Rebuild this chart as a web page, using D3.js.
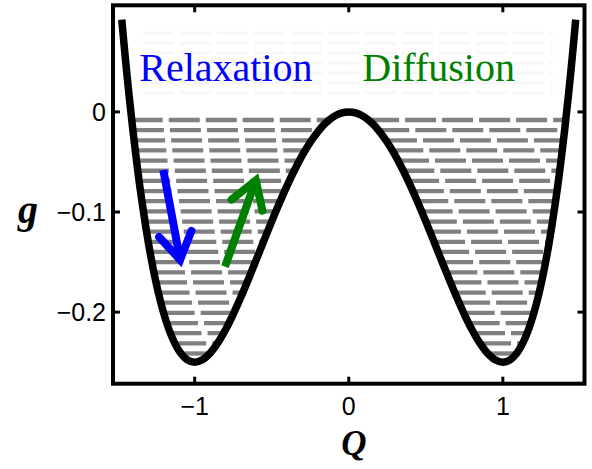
<!DOCTYPE html>
<html><head><meta charset="utf-8">
<script src="https://cdn.jsdelivr.net/npm/d3@7"></script>
<style>html,body{margin:0;padding:0;background:#fff;} svg{display:block;}</style>
</head><body>
<svg id="chart" width="592" height="469"></svg>
<script>
// ---- data ----
const qValues = [-1.473,-1.45,-1.425,-1.4,-1.375,-1.35,-1.3,-1.25,-1.2,-1.15,-1.1,-1.05,-1.0,-0.95,-0.9,-0.85,-0.8,-0.75,-0.7,-0.65,-0.6,-0.55,-0.5,-0.45,-0.4,-0.35,-0.3,-0.25,-0.2,-0.15,-0.1,-0.05,
  0,0.05,0.1,0.15,0.2,0.25,0.3,0.35,0.4,0.45,0.5,0.55,0.6,0.65,0.7,0.75,0.8,0.85,0.9,0.95,1.0,1.05,1.1,1.15,1.2,1.25,1.3,1.35,1.375,1.4,1.425,1.45,1.473];
const gValues = [0.0921,0.05388,0.01555,-0.0196,-0.0517,-0.08087,-0.13098,-0.1709,-0.2016,-0.224,-0.23898,-0.24737,-0.25,-0.24762,-0.24098,-0.23075,-0.2176,-0.20215,-0.18498,-0.16662,-0.1476,-0.12837,-0.10938,-0.091,-0.0736,-0.0575,-0.04298,-0.03027,-0.0196,-0.01112,-0.00498,-0.00125,
  0,-0.00125,-0.00498,-0.01112,-0.0196,-0.03027,-0.04298,-0.0575,-0.0736,-0.091,-0.10938,-0.12837,-0.1476,-0.16662,-0.18498,-0.20215,-0.2176,-0.23075,-0.24098,-0.24762,-0.25,-0.24737,-0.23898,-0.224,-0.2016,-0.1709,-0.13098,-0.08087,-0.0517,-0.0196,0.01555,0.05388,0.0921];
const hatchLevels = [-0.0081,-0.0182,-0.0284,-0.0385,-0.0487,-0.0588,-0.0689,-0.0791,-0.0892,-0.0994,-0.1095,-0.1196,
  -0.1298,-0.1399,-0.1501,-0.1602,-0.1703,-0.1805,-0.1906,-0.2008,-0.2109,-0.2210,-0.2312,-0.2413];
const faintLevels = [0.0789,0.0689,0.0589,0.0489,0.0389,0.0289,0.0189];
const xTicks = [-1, 0, 1];
const xTickLabels = ["\u22121", "0", "1"];
const yTicks = [0, -0.1, -0.2];
const yTickLabels = ["0", "\u22120.1", "\u22120.2"];
const relaxArrow = [[-1.2034, -0.0580], [-1.0944, -0.1477]];
const diffuseArrow = [[-0.8031, -0.1546], [-0.6032, -0.0684]];
const annotations = ["Relaxation", "Diffusion"];
const axisTitles = ["Q", "g"];

// ---- layout ----
const svg = d3.select("#chart");
const x = d3.scaleLinear().domain([-1.53, 1.53]).range([113, 584.5]);
const y = d3.scaleLinear().domain([0.1065, -0.2715]).range([5.3, 383.7]);
svg.append("rect").attr("width",592).attr("height",469).attr("fill","#fff");

function crossings(level){
  const xs=[];
  for(let i=0;i<qValues.length-1;i++){
    const a=gValues[i]-level, b=gValues[i+1]-level;
    if((a>=0 && b<0)||(a<0 && b>=0)){
      const t=a/(a-b);
      xs.push(qValues[i]+t*(qValues[i+1]-qValues[i]));
    }
  }
  return xs;
}

// very faint rows behind the labels
const faint = svg.append("g");
faintLevels.forEach(lv=>{
  faint.append("path").attr("d",`M${x(-1.335)},${y(lv)}H${x(1.325)}`)
    .attr("stroke","#f7f7f7").attr("stroke-width",3).attr("stroke-dasharray","31 6").attr("fill","none");
});

// hatch rows
const hatch = svg.append("g");
hatchLevels.forEach(lv=>{
  const xs=crossings(lv);
  for(let k=0;k+1<xs.length;k+=2){
    hatch.append("path").attr("d",`M${x(xs[k])},${y(lv)}H${x(xs[k+1])}`)
      .attr("stroke","#808080").attr("stroke-width",4.3).attr("stroke-dasharray","31 6").attr("fill","none");
  }
});

// curve
const line = d3.line().x((d,i)=>x(qValues[i])).y((d,i)=>y(gValues[i])).curve(d3.curveCatmullRom.alpha(0.5));
svg.append("path").attr("d",line(qValues)).attr("fill","none").attr("stroke","#000")
  .attr("stroke-width",7.5).attr("stroke-linejoin","round").attr("stroke-linecap","butt");

// arrows
function drawArrow(a,color){
  const x0=x(a[0][0]), y0=y(a[0][1]), x1=x(a[1][0]), y1=y(a[1][1]);
  const ang=Math.atan2(y0-y1,x0-x1), L=31, da=32*Math.PI/180;
  const p1=[x1+L*Math.cos(ang+da), y1+L*Math.sin(ang+da)];
  const p2=[x1+L*Math.cos(ang-da), y1+L*Math.sin(ang-da)];
  svg.append("path").attr("d",`M${x0},${y0}L${x1},${y1}`).attr("stroke",color).attr("stroke-width",8).attr("fill","none");
  svg.append("path").attr("d",`M${p1[0]},${p1[1]}L${x1},${y1}L${p2[0]},${p2[1]}`).attr("stroke",color)
    .attr("stroke-width",8).attr("fill","none").attr("stroke-linejoin","miter").attr("stroke-linecap","round");
}
drawArrow(relaxArrow,"#0000ff");
drawArrow(diffuseArrow,"#008000");

// frame
const [X0,X1]=x.range(), [Y0,Y1]=y.range();
svg.append("rect").attr("x",X0).attr("y",Y0).attr("width",X1-X0).attr("height",Y1-Y0)
  .attr("fill","none").attr("stroke","#000").attr("stroke-width",4);
const tk=svg.append("g").attr("stroke","#000").attr("stroke-width",3);
xTicks.forEach(t=>{
  tk.append("line").attr("x1",x(t)).attr("x2",x(t)).attr("y1",Y1).attr("y2",Y1-7);
  tk.append("line").attr("x1",x(t)).attr("x2",x(t)).attr("y1",Y0).attr("y2",Y0+7);
});
yTicks.forEach(t=>{
  tk.append("line").attr("y1",y(t)).attr("y2",y(t)).attr("x1",X0).attr("x2",X0+7);
  tk.append("line").attr("y1",y(t)).attr("y2",y(t)).attr("x1",X1).attr("x2",X1-7);
});

// tick labels
const tickFont = "Liberation Sans, Arial, sans-serif";
xTicks.forEach((t,i)=>{
  svg.append("text").attr("x",x(t)).attr("y",414.5).attr("text-anchor","middle")
    .attr("font-family",tickFont).attr("font-size",25).text(xTickLabels[i]);
});
yTicks.forEach((t,i)=>{
  svg.append("text").attr("x",106).attr("y",y(t)+9).attr("text-anchor","end")
    .attr("font-family",tickFont).attr("font-size",25).text(yTickLabels[i]);
});

// axis titles
const serif = "Liberation Serif, Times New Roman, serif";
svg.append("text").attr("x",354).attr("y",455).attr("text-anchor","middle").attr("font-family",serif)
  .attr("font-weight","bold").attr("font-style","italic").attr("font-size",35).text(axisTitles[0]);
svg.append("text").attr("x",28).attr("y",223).attr("text-anchor","middle").attr("font-family",serif)
  .attr("font-weight","bold").attr("font-style","italic").attr("font-size",40).text(axisTitles[1]);

// annotations
svg.append("text").attr("x",139.3).attr("y",81).attr("font-family",serif).attr("font-size",40)
  .attr("fill","#0000ff").text(annotations[0]);
svg.append("text").attr("x",362.3).attr("y",81).attr("font-family",serif).attr("font-size",40)
  .attr("fill","#008000").text(annotations[1]);
</script>
</body></html>
